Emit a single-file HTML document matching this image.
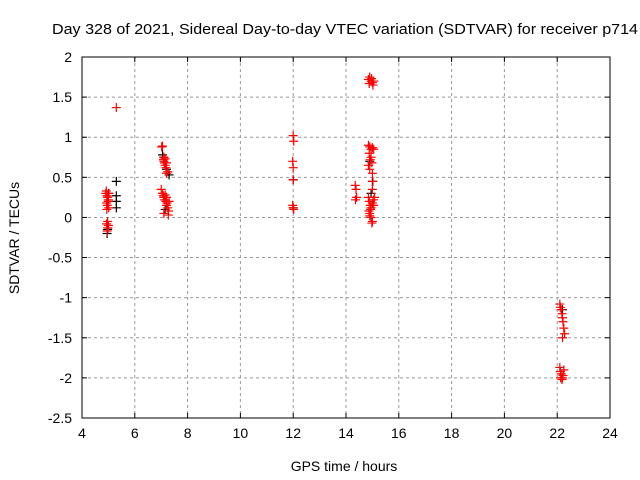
<!DOCTYPE html>
<html><head><meta charset="utf-8"><style>
body{margin:0;background:#fff;}
svg{display:block;font-family:"Liberation Sans",sans-serif;}
</style></head><body>
<svg id="chart" width="640" height="480">
<text x="52" y="34" font-size="15" textLength="586" lengthAdjust="spacingAndGlyphs">Day 328 of 2021, Sidereal Day-to-day VTEC variation (SDTVAR) for receiver p714</text>
<text x="344" y="471" font-size="14" text-anchor="middle">GPS time / hours</text>
<text transform="translate(19,238) rotate(-90)" font-size="14" text-anchor="middle">SDTVAR / TECUs</text>
<g id="grid"></g><g id="ticks"></g><g id="marks"></g>
<rect x="82" y="57" width="528" height="361" fill="none" stroke="#000"/>
</svg>
<script>
const xTicks=[4,6,8,10,12,14,16,18,20,22,24];
const yTicks=[2,1.5,1,0.5,0,-0.5,-1,-1.5,-2,-2.5];
const blackX=[4.95,4.97,5.0,5.3,5.3,5.3,5.3,7.05,7.1,7.2,7.3,7.15,12.0,12.0,14.9,15.0,14.95,22.2];
const blackY=[-0.2,-0.15,0.3,0.45,0.27,0.2,0.12,0.78,0.75,0.6,0.53,0.1,0.47,0.12,0.7,0.45,0.3,-1.15];
const redX=[4.9,4.92,4.95,4.97,5.0,5.02,4.93,4.96,4.99,5.01,4.94,4.97,5.0,4.98,4.95,4.93,5.3,
7.02,7.05,7.08,7.1,7.12,7.15,7.18,7.2,7.25,7.1,7.15,7.2,7.0,7.05,7.08,7.1,7.12,7.15,7.18,7.2,7.22,7.25,7.28,7.3,7.1,7.2,7.27,
12.0,12.02,11.98,12.0,12.0,11.98,12.0,12.02,
14.35,14.38,14.4,14.36,
14.85,14.9,14.95,15.0,15.05,14.88,14.97,15.02,
14.85,14.9,14.95,15.0,15.05,14.88,14.92,14.98,14.85,14.9,14.95,15.0,15.02,15.0,
14.85,14.88,14.92,14.95,15.0,15.05,15.08,14.9,14.95,15.0,14.87,14.93,14.98,15.05,14.9,
22.1,22.12,22.15,22.2,22.22,22.25,22.28,22.18,22.2,
22.1,22.12,22.15,22.2,22.25,22.18,22.22,22.13];
const redY=[0.3,0.33,0.27,0.25,0.22,0.3,0.18,0.15,0.2,0.12,0.1,-0.05,-0.1,-0.13,-0.17,-0.08,1.37,
0.88,0.89,0.72,0.7,0.68,0.65,0.62,0.68,0.57,0.75,0.73,0.55,0.35,0.3,0.27,0.25,0.22,0.28,0.2,0.15,0.18,0.12,0.08,0.2,0.05,0.25,0.03,
1.02,0.95,0.7,0.62,0.47,0.15,0.12,0.1,
0.4,0.35,0.25,0.22,
1.72,1.75,1.7,1.68,1.7,1.67,1.73,1.65,
0.9,0.88,0.85,0.87,0.85,0.8,0.72,0.68,0.65,0.6,0.75,0.55,0.45,0.35,
0.25,0.2,0.15,0.12,0.18,0.22,0.25,0.05,0.0,-0.05,0.08,0.1,-0.07,0.15,0.02,
-1.08,-1.12,-1.15,-1.25,-1.3,-1.38,-1.45,-1.2,-1.5,
-1.87,-1.92,-1.95,-2.0,-1.9,-2.02,-1.97,-2.0];
const X0=82,X1=610,Y0=57,Y1=418;
const sx=h=>X0+(h-4)/20*(X1-X0);
const sy=v=>Y0+(2-v)/4.5*(Y1-Y0);
const NS='http://www.w3.org/2000/svg';
const g=document.getElementById('grid'),t=document.getElementById('ticks'),m=document.getElementById('marks');
function mk(tag,a,p){const e=document.createElementNS(NS,tag);for(const k in a)e.setAttribute(k,a[k]);p.appendChild(e);return e;}
xTicks.forEach(v=>{const x=sx(v);
 if(v>4&&v<24){const l=mk('line',{x1:x,x2:x,y1:Y0,y2:Y1,stroke:'#999','stroke-dasharray':'3,3'},g);
 
 }
 mk('line',{x1:x,x2:x,y1:Y1,y2:Y1-5,stroke:'#000'},t);mk('line',{x1:x,x2:x,y1:Y0,y2:Y0+5,stroke:'#000'},t);
 const tx=mk('text',{x:x,y:Y1+20,'font-size':14,'text-anchor':'middle'},t);tx.textContent=v;
 
 });
yTicks.forEach(v=>{const y=sy(v);
 if(v<2&&v>-2.5){const l=mk('line',{x1:X0,x2:X1,y1:y,y2:y,stroke:'#999','stroke-dasharray':'3,3'},g);
 
 }
 mk('line',{x1:X0,x2:X0+5,y1:y,y2:y,stroke:'#000'},t);mk('line',{x1:X1,x2:X1-5,y1:y,y2:y,stroke:'#000'},t);
 const tx=mk('text',{x:X0-10,y:y+5,'font-size':14,'text-anchor':'end'},t);tx.textContent=v;
 
 });
function plus(h,v,c,name){const x=sx(h),y=sy(v);
 const p=mk('path',{d:`M${x-4.5},${y}H${x+4.5}M${x},${y-4.5}V${y+4.5}`,stroke:c,'stroke-width':1.2,fill:'none'},m);
 
 }
blackX.forEach((h,i)=>plus(h,blackY[i],'#000','black-point'));
redX.forEach((h,i)=>plus(h,redY[i],'#f00','sdtvar-point'));
</script>
</body></html>
